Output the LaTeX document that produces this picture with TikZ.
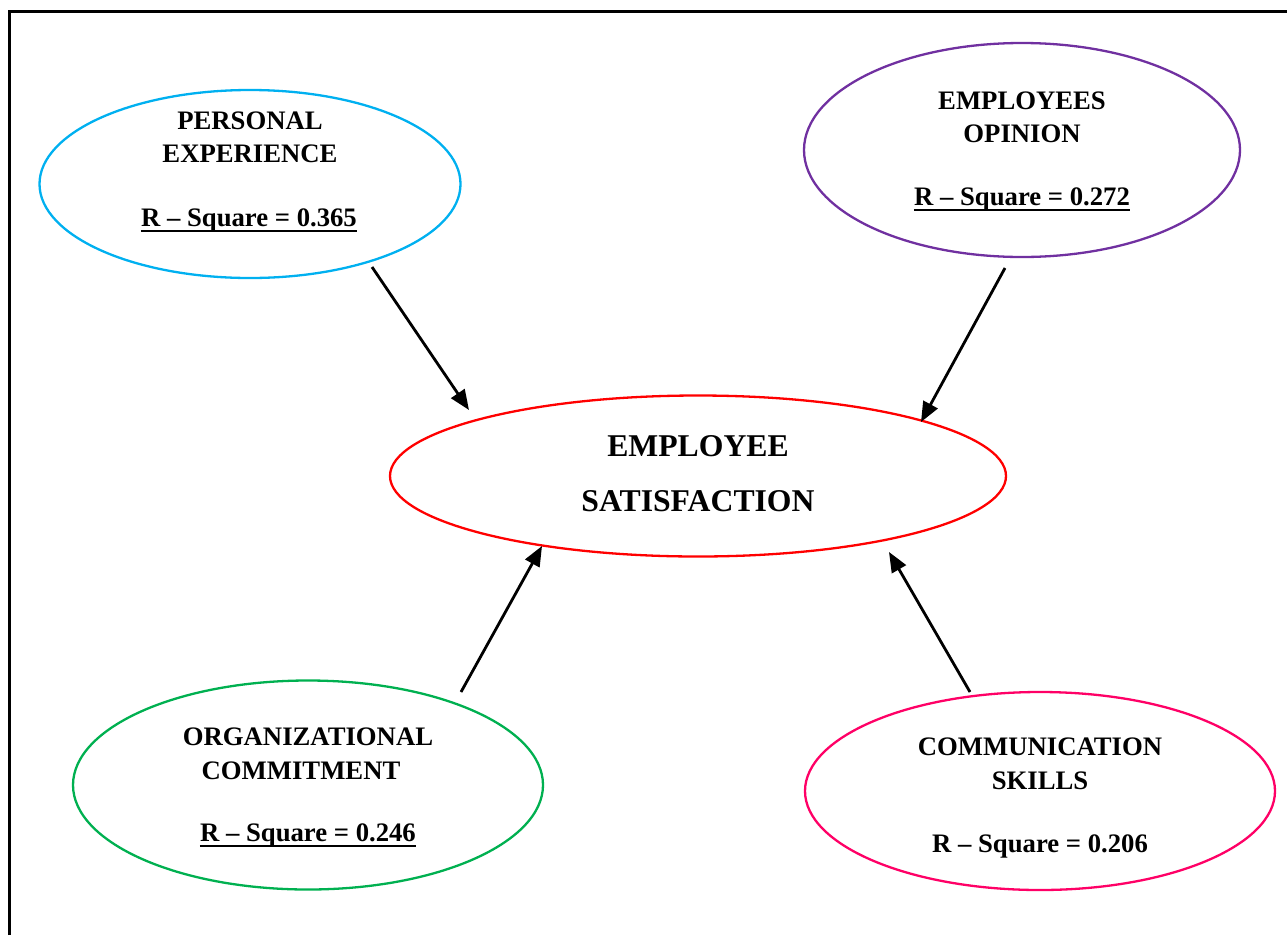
\documentclass[tikz,border=0pt]{standalone}
\usepackage{fontspec}
\setmainfont{Liberation Serif}
\usetikzlibrary{shapes.geometric,arrows.meta}

\definecolor{peblue}{HTML}{00B0F0}
\definecolor{oppurple}{HTML}{7030A0}
\definecolor{esred}{HTML}{FF0000}
\definecolor{ocgreen}{HTML}{00B050}
\definecolor{cspink}{HTML}{FF0066}

\tikzset{
  oval/.style={draw, ellipse, line width=2.3pt, inner sep=0pt},
  lbl/.style={anchor=base, inner sep=0pt, font=\bfseries\fontsize{26.7}{32}\selectfont},
  biglbl/.style={anchor=base, inner sep=0pt, font=\bfseries\fontsize{31.7}{38}\selectfont},
  uline/.style={line width=2.8pt},
  link/.style={line width=2.8pt, -{Triangle[length=20pt,width=16pt]}},
  frame/.style={line width=3pt}
}

\begin{document}
\begin{tikzpicture}[x=1pt,y=-1pt]
\useasboundingbox (0,0) rectangle (1287,935);

% outer frame (top and left edges)
\coordinate (fbl) at (9,935);
\coordinate (ftl) at (9,11);
\coordinate (ftr) at (1287,11);
\draw[frame] (fbl) -- (ftl) -- (ftr);

% ellipses
\node[oval, draw=peblue,   minimum width=421pt, minimum height=188pt] (pe) at (250,184) {};
\node[oval, draw=oppurple, minimum width=436pt, minimum height=214pt] (op) at (1022,150) {};
\node[oval, draw=esred,    minimum width=616pt, minimum height=161pt] (es) at (698,476) {};
\node[oval, draw=ocgreen,  minimum width=470pt, minimum height=209pt] (oc) at (308,785) {};
\node[oval, draw=cspink,   minimum width=470pt, minimum height=198pt] (cs) at (1040,791) {};

% personal experience
\node[lbl] (pe1) at (250,129) {PERSONAL};
\node[lbl] (pe2) at (250,162) {EXPERIENCE};
\node[lbl] (pe3) at (249,226) {R -- Square = 0.365};
\draw[uline] ([yshift=-5pt]pe3.base west) -- ([yshift=-5pt]pe3.base east);

% employees opinion
\node[lbl] (op1) at (1022,109) {EMPLOYEES};
\node[lbl] (op2) at (1022,142) {OPINION};
\node[lbl] (op3) at (1022,205) {R -- Square = 0.272};
\draw[uline] ([yshift=-5pt]op3.base west) -- ([yshift=-5pt]op3.base east);

% employee satisfaction
\node[biglbl] (es1) at (698,456) {EMPLOYEE};
\node[biglbl] (es2) at (698,511) {SATISFACTION};

% organizational commitment
\node[lbl] (oc1) at (308,745) {ORGANIZATIONAL};
\node[lbl] (oc2) at (301,779) {COMMITMENT};
\node[lbl] (oc3) at (308,841) {R -- Square = 0.246};
\draw[uline] ([yshift=-5pt]oc3.base west) -- ([yshift=-5pt]oc3.base east);

% communication skills
\node[lbl] (cs1) at (1040,755) {COMMUNICATION};
\node[lbl] (cs2) at (1040,789) {SKILLS};
\node[lbl] (cs3) at (1040,852) {R -- Square = 0.206};

% arrow ends near the ellipses
\coordinate (pe-out) at (372,267);
\coordinate (es-nw)  at (469,410);
\coordinate (op-out) at (1005,268);
\coordinate (es-ne)  at (921,422);
\coordinate (oc-out) at (461,692);
\coordinate (es-sw)  at (542,546);
\coordinate (cs-out) at (970,692);
\coordinate (es-se)  at (889,552);

\draw[link] (pe-out) -- (es-nw);
\draw[link] (op-out) -- (es-ne);
\draw[link] (oc-out) -- (es-sw);
\draw[link] (cs-out) -- (es-se);
\end{tikzpicture}
\end{document}
